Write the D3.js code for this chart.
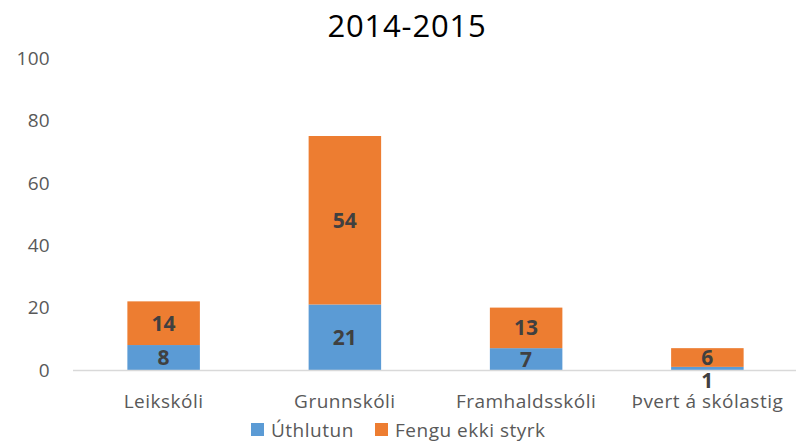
<!DOCTYPE html>
<html>
<head>
<meta charset="utf-8">
<script src="https://cdn.jsdelivr.net/npm/d3@7"></script>
<style>
  body { margin: 0; background: #fff; }
  svg { display: block; font-family: "Open Sans", "Noto Sans", sans-serif; }
</style>
</head>
<body>
<div id="chart"></div>
<script>
// Data
const categories = ['Leikskóli', 'Grunnskóli', 'Framhaldsskóli', 'Þvert á skólastig'];
const uthlutun = [8, 21, 7, 1];
const fenguEkki = [14, 54, 13, 6];
const seriesNames = ['Úthlutun', 'Fengu ekki styrk'];
const yTicks = [0, 20, 40, 60, 80, 100];
const title = '2014-2015';

const width = 796, height = 443;
const colors = ['#5b9bd5', '#ed7d31'];

const svg = d3.select('#chart')
    .append('svg')
    .attr('width', width)
    .attr('height', height);

// Scales
const x = d3.scaleBand()
    .domain(categories)
    .range([73, 798])
    .paddingInner(0.6)
    .paddingOuter(0.3);

const y = d3.scaleLinear()
    .domain([0, 100])
    .range([370, 58]);

// Title
svg.append('text')
    .attr('x', 407)
    .attr('y', 37)
    .attr('text-anchor', 'middle')
    .style('font-size', '31px')
    .style('letter-spacing', '0.8px')
    .style('fill', '#000')
    .text(title);

// Y axis labels (no line, no gridlines)
svg.selectAll('.ytick')
    .data(yTicks)
    .enter()
    .append('text')
    .attr('class', 'ytick')
    .attr('x', 50)
    .attr('y', d => y(d))
    .attr('dy', '0.36em')
    .attr('text-anchor', 'end')
    .style('font-size', '19px')
    .style('letter-spacing', '0.3px')
    .style('fill', '#595959')
    .text(d => d);

// Stack the two series
const rows = categories.map((c, i) => ({ cat: c, s0: uthlutun[i], s1: fenguEkki[i] }));
const stacked = d3.stack().keys(['s0', 's1'])(rows);

const layers = svg.selectAll('.layer')
    .data(stacked)
    .enter()
    .append('g')
    .attr('class', 'layer')
    .attr('fill', (d, i) => colors[i]);

layers.selectAll('rect')
    .data(d => d)
    .enter()
    .append('rect')
    .attr('x', d => x(d.data.cat))
    .attr('y', d => y(d[1]))
    .attr('width', x.bandwidth())
    .attr('height', d => y(d[0]) - y(d[1]));

// X axis line
svg.append('line')
    .attr('x1', 73)
    .attr('x2', width)
    .attr('y1', y(0) + 0.5)
    .attr('y2', y(0) + 0.5)
    .attr('stroke', '#d9d9d9')
    .attr('stroke-width', 1.5);

// Data labels
layers.selectAll('.dlabel')
    .data(d => d)
    .enter()
    .append('text')
    .attr('class', 'dlabel')
    .attr('x', d => x(d.data.cat) + x.bandwidth() / 2)
    .attr('y', d => {
        const mid = (y(d[0]) + y(d[1])) / 2;
        // very thin segment: label sits just below it
        return (y(d[0]) - y(d[1]) < 10) ? y(d[0]) + 10 : mid;
    })
    .attr('dy', '0.36em')
    .attr('text-anchor', 'middle')
    .style('font-size', '21px')
    .style('font-weight', 'bold')
    .style('fill', '#404040')
    .text(d => d[1] - d[0]);

// Category labels
svg.selectAll('.xlabel')
    .data(categories)
    .enter()
    .append('text')
    .attr('class', 'xlabel')
    .attr('x', d => x(d) + x.bandwidth() / 2)
    .attr('y', 408)
    .attr('text-anchor', 'middle')
    .style('font-size', '19px')
    .style('letter-spacing', '0.5px')
    .style('fill', '#595959')
    .text(d => d);

// Legend
const legendX = [251, 375];
const legend = svg.selectAll('.legend')
    .data(seriesNames)
    .enter()
    .append('g')
    .attr('class', 'legend')
    .attr('transform', (d, i) => `translate(${legendX[i]},423)`);

legend.append('rect')
    .attr('width', 13)
    .attr('height', 13)
    .attr('fill', (d, i) => colors[i]);

legend.append('text')
    .attr('x', 20)
    .attr('y', 14)
    .style('font-size', '19px')
    .style('letter-spacing', '0.5px')
    .style('fill', '#595959')
    .text(d => d);
</script>
</body>
</html>
